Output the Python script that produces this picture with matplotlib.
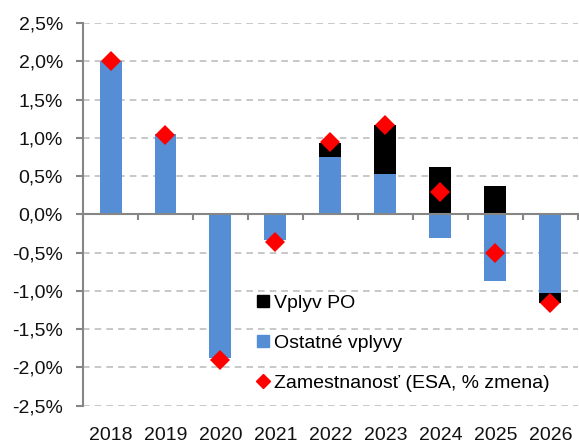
import numpy as np
import matplotlib.pyplot as plt
from matplotlib.lines import Line2D
from matplotlib.ticker import FuncFormatter, FixedLocator

years = ["2018", "2019", "2020", "2021", "2022", "2023", "2024", "2025", "2026"]
ostatne = [2.00, 1.05, -1.88, -0.34, 0.75, 0.53, -0.31, -0.87, -1.03]
vplyv_po = [0.0, 0.0, 0.0, 0.0, 0.19, 0.635, 0.615, 0.37, -0.13]
zamestnanost = [2.00, 1.04, -1.90, -0.36, 0.95, 1.17, 0.29, -0.50, -1.16]

BLUE = "#558ED5"
GRID = "#BFBFBF"
AXC = "#868686"

plt.rcParams["font.family"] = ["Liberation Sans", "DejaVu Sans"]
plt.rcParams["font.size"] = 14

fig = plt.figure(figsize=(5.79, 4.45), dpi=100)
ax = fig.add_axes([0.1434, 0.0883, 0.8546, 0.8597])

x = np.arange(len(years))
ost = np.array(ostatne)
po = np.array(vplyv_po)
# excel-style stacking: positives on positives, negatives on negatives
po_bottom = np.where(po >= 0, np.maximum(ost, 0), np.minimum(ost, 0))

w = 0.4
ax.bar(x, ost, w, color=BLUE, zorder=2)
ax.bar(x, po, w, bottom=po_bottom, color="black", zorder=2)
ax.plot(x, zamestnanost, "D", color="red", markersize=10, markeredgewidth=0, zorder=3)

ax.set_xlim(-0.5, len(years) - 0.5)
ax.set_ylim(-2.5, 2.5)
ax.yaxis.set_major_locator(FixedLocator(np.arange(-2.5, 2.51, 0.5)))
ax.yaxis.set_major_formatter(FuncFormatter(lambda v, p: ("%.1f%%" % v).replace(".", ",").replace("-0,0", "0,0")))
ax.grid(axis="y", color=GRID, linestyle=(0, (4, 3)), linewidth=1.2, zorder=0)

for s in ["top", "right"]:
    ax.spines[s].set_visible(False)
ax.spines["left"].set_color(AXC)
ax.spines["left"].set_linewidth(1.5)
ax.spines["bottom"].set_position(("data", 0))
ax.spines["bottom"].set_color(AXC)
ax.spines["bottom"].set_linewidth(1.5)
ax.spines["bottom"].set_zorder(4)

ax.tick_params(axis="y", direction="out", length=5, width=1.5, color=AXC, pad=9.5, labelcolor="#111111")
ax.set_xticks(np.arange(-0.5, len(years), 1.0))
ax.tick_params(axis="x", direction="out", length=4, width=1.5, color=AXC, labelbottom=False)

sec = ax.secondary_xaxis("bottom")
sec.spines["bottom"].set_visible(False)
sec.set_xticks(x, labels=years)
sec.tick_params(axis="x", length=0, pad=15.5, labelcolor="#111111")

handles = [
    Line2D([], [], marker="s", color="black", linestyle="none", markersize=9),
    Line2D([], [], marker="s", color=BLUE, linestyle="none", markersize=9),
    Line2D([], [], marker="D", color="red", linestyle="none", markersize=7.5),
]
labels = ["Vplyv PO", "Ostatné vplyvy", "Zamestnanosť (ESA, % zmena)"]
ax.legend(handles, labels, loc="lower left", bbox_to_anchor=(0.32, 0.0), frameon=False,
          handlelength=0.8, handletextpad=0.2, labelspacing=1.15, borderaxespad=0.3)

fig.savefig("out.png", dpi=100)
